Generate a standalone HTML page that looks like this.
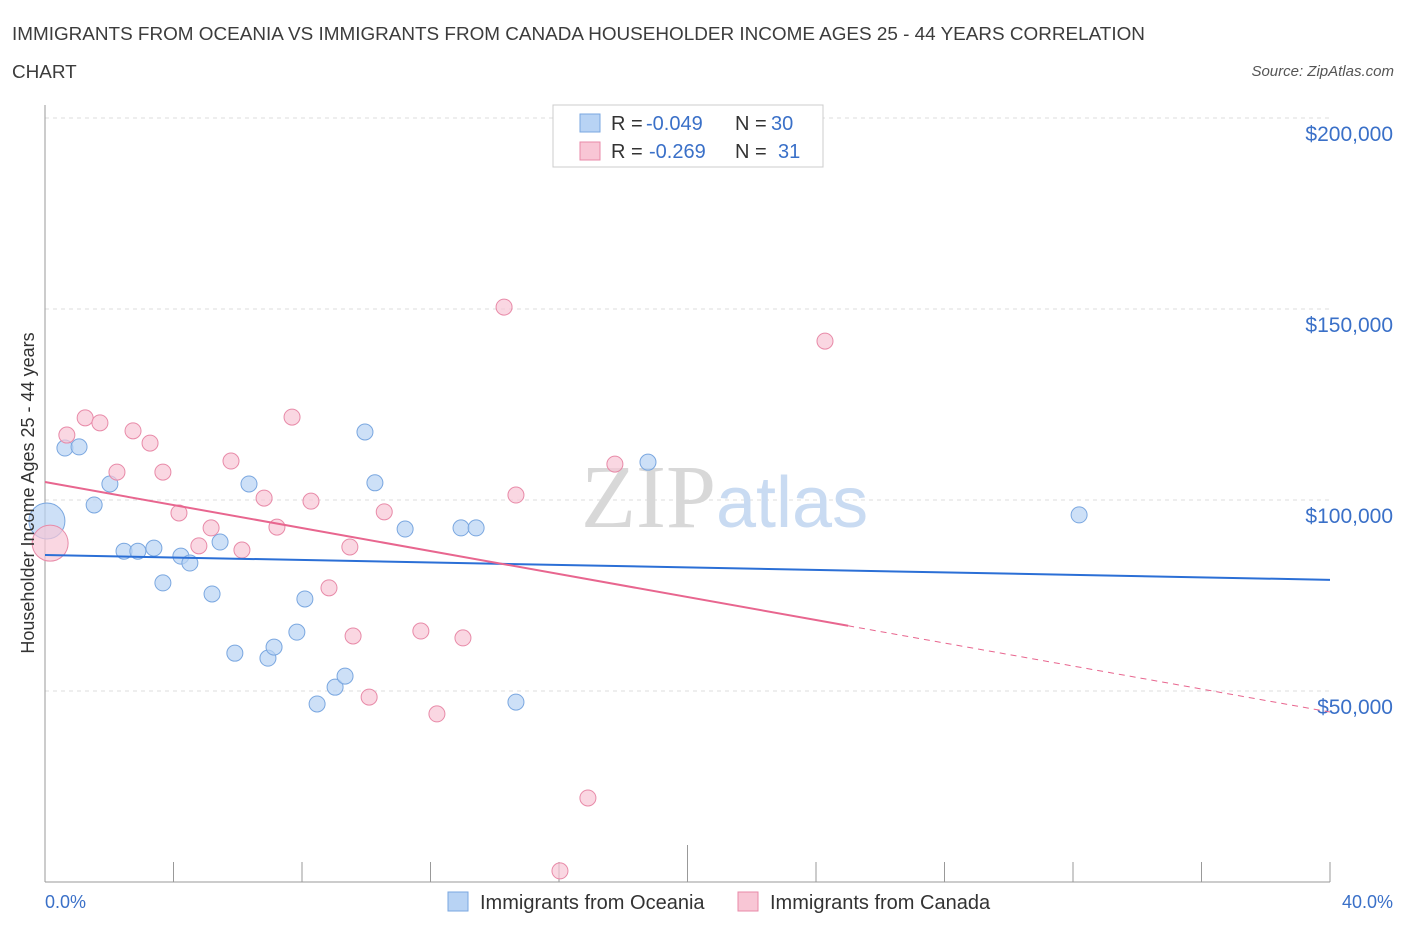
<!DOCTYPE html>
<html><head><meta charset="utf-8"><style>
body{margin:0;background:#fff;font-family:"Liberation Sans",sans-serif}
</style></head><body>
<svg width="1406" height="930" viewBox="0 0 1406 930" xmlns="http://www.w3.org/2000/svg" id="svg">
<text x="12" y="40" font-size="18.9" fill="#3c3c3c">IMMIGRANTS FROM OCEANIA VS IMMIGRANTS FROM CANADA HOUSEHOLDER INCOME AGES 25 - 44 YEARS CORRELATION</text>
<text x="12" y="78" font-size="18.9" fill="#3c3c3c">CHART</text>
<text x="1394" y="76" font-size="15" fill="#555" font-style="italic" text-anchor="end">Source: ZipAtlas.com</text>
<g id="grid"></g>
<text x="716" y="527" font-size="90" fill="#d8d8d8" text-anchor="end" font-family="Liberation Serif">ZIP</text>
<text x="716" y="527" font-size="72" fill="#c9dbf2">atlas</text>
<g id="marks"></g>
<text transform="translate(34,493) rotate(-90)" font-size="18" fill="#333" text-anchor="middle">Householder Income Ages 25 - 44 years</text>
<text x="45" y="908" font-size="18" fill="#3a70c8">0.0%</text>
<text x="1393" y="908" font-size="18" fill="#3a70c8" text-anchor="end">40.0%</text>
<g font-size="20">
<rect x="553" y="105" width="270" height="62" fill="#fff" stroke="#ccc"/>
<rect x="580" y="114" width="20" height="18" fill="#b8d3f4" stroke="#7aa7e0"/>
<text x="611" y="130" fill="#333">R =</text>
<text x="646" y="130" fill="#3a70c8">-0.049</text>
<text x="735" y="130" fill="#333">N =</text>
<text x="771" y="130" fill="#3a70c8">30</text>
<rect x="580" y="142" width="20" height="18" fill="#f8c6d5" stroke="#e88aa8"/>
<text x="611" y="158" fill="#333">R =</text>
<text x="649" y="158" fill="#3a70c8">-0.269</text>
<text x="735" y="158" fill="#333">N =</text>
<text x="778" y="158" fill="#3a70c8">31</text>
</g>
<g>
<rect x="448" y="892" width="20" height="19" fill="#b8d3f4" stroke="#7aa7e0"/>
<text x="480" y="909" font-size="20" fill="#333">Immigrants from Oceania</text>
<rect x="738" y="892" width="20" height="19" fill="#f8c6d5" stroke="#e88aa8"/>
<text x="770" y="909" font-size="20" fill="#333">Immigrants from Canada</text>
</g>
</svg>
<script>
const blueX=[0.06,0.62,1.06,1.53,2.02,2.46,2.89,3.39,3.67,4.23,4.51,5.20,5.45,5.91,6.35,6.94,7.13,7.84,8.09,8.47,9.03,9.34,9.96,10.27,11.21,12.95,13.42,14.66,18.77,32.19];
const blueY=[94.5,113.6,113.9,98.7,104.2,86.6,86.6,87.4,78.3,85.3,83.5,75.4,89.0,59.9,104.2,58.6,61.5,65.4,74.1,46.6,51.0,53.9,117.8,104.5,92.4,92.7,92.7,47.1,109.9,96.1];
const pinkX=[0.16,0.68,1.25,1.71,2.24,2.74,3.27,3.67,4.17,4.79,5.17,5.79,6.13,6.82,7.22,7.69,8.28,8.84,9.49,9.59,10.09,10.56,11.70,12.20,13.01,14.29,14.66,16.03,16.90,17.74,24.28];
const pinkY=[88.7,117.0,121.5,120.2,107.3,118.1,114.9,107.3,96.6,88.0,92.7,110.2,86.9,100.5,92.9,121.7,99.7,77.0,87.7,64.4,48.4,96.9,65.7,44.0,63.9,150.5,101.3,2.9,22.0,109.4,141.6];
const yTicks=[50,100,150,200];
const yTickLabels=["$50,000","$100,000","$150,000","$200,000"];
const xTicks=[0,4,8,12,16,20,24,28,32,36,40];
const blueTrend=[85.6,79.1];
const pinkTrend=[104.7,44.5];
const pinkSolidEnd=25.0;
const NS="http://www.w3.org/2000/svg";
const X=v=>45+v*(1285/40), Y=v=>882-v*3.82;
function mk(t,a,p){const e=document.createElementNS(NS,t);for(const k in a)e.setAttribute(k,a[k]);p.appendChild(e);return e;}
const grid=document.getElementById('grid'),marks=document.getElementById('marks');
yTicks.forEach((v,i)=>{
 const l=mk('line',{x1:45,x2:1330,y1:Y(v),y2:Y(v),stroke:'#ddd','stroke-dasharray':'4,4'},grid);
 
 
 const t=mk('text',{x:1393,y:Y(v)+23,'font-size':21,fill:'#3a70c8','text-anchor':'end'},grid);
 t.textContent=yTickLabels[i];
 
 
});
const ax=mk('line',{x1:45,x2:1330,y1:882,y2:882,stroke:'#999'},grid);


const ay=mk('line',{x1:45,x2:45,y1:105,y2:882,stroke:'#999'},grid);


xTicks.forEach(v=>{
 const tk=mk('line',{x1:X(v),x2:X(v),y1:v==20?845:862,y2:882,stroke:'#999'},grid);
 
 
});
function pts(xs,ys,fill,stroke,name){
 xs.forEach((x,i)=>{
  const c=mk('circle',{cx:X(x),cy:Y(ys[i]),r:i==0?18:8,fill:fill,'fill-opacity':0.7,stroke:stroke,'stroke-width':1},marks);
  
  
 });
}
pts(blueX,blueY,'#b8d3f4','#7aa7e0','point-oceania');
pts(pinkX,pinkY,'#f8c6d5','#e88aa8','point-canada');
const bl=mk('line',{x1:X(0),y1:Y(blueTrend[0]),x2:X(40),y2:Y(blueTrend[1]),stroke:'#2b6fd6','stroke-width':2},marks);


const pm=pinkTrend[0]+(pinkTrend[1]-pinkTrend[0])*pinkSolidEnd/40;
const pl=mk('line',{x1:X(0),y1:Y(pinkTrend[0]),x2:X(pinkSolidEnd),y2:Y(pm),stroke:'#e8668f','stroke-width':2},marks);


const pd=mk('line',{x1:X(pinkSolidEnd),y1:Y(pm),x2:X(40),y2:Y(pinkTrend[1]),stroke:'#e8668f','stroke-width':1,'stroke-dasharray':'6,5'},marks);


</script>
</body></html>
